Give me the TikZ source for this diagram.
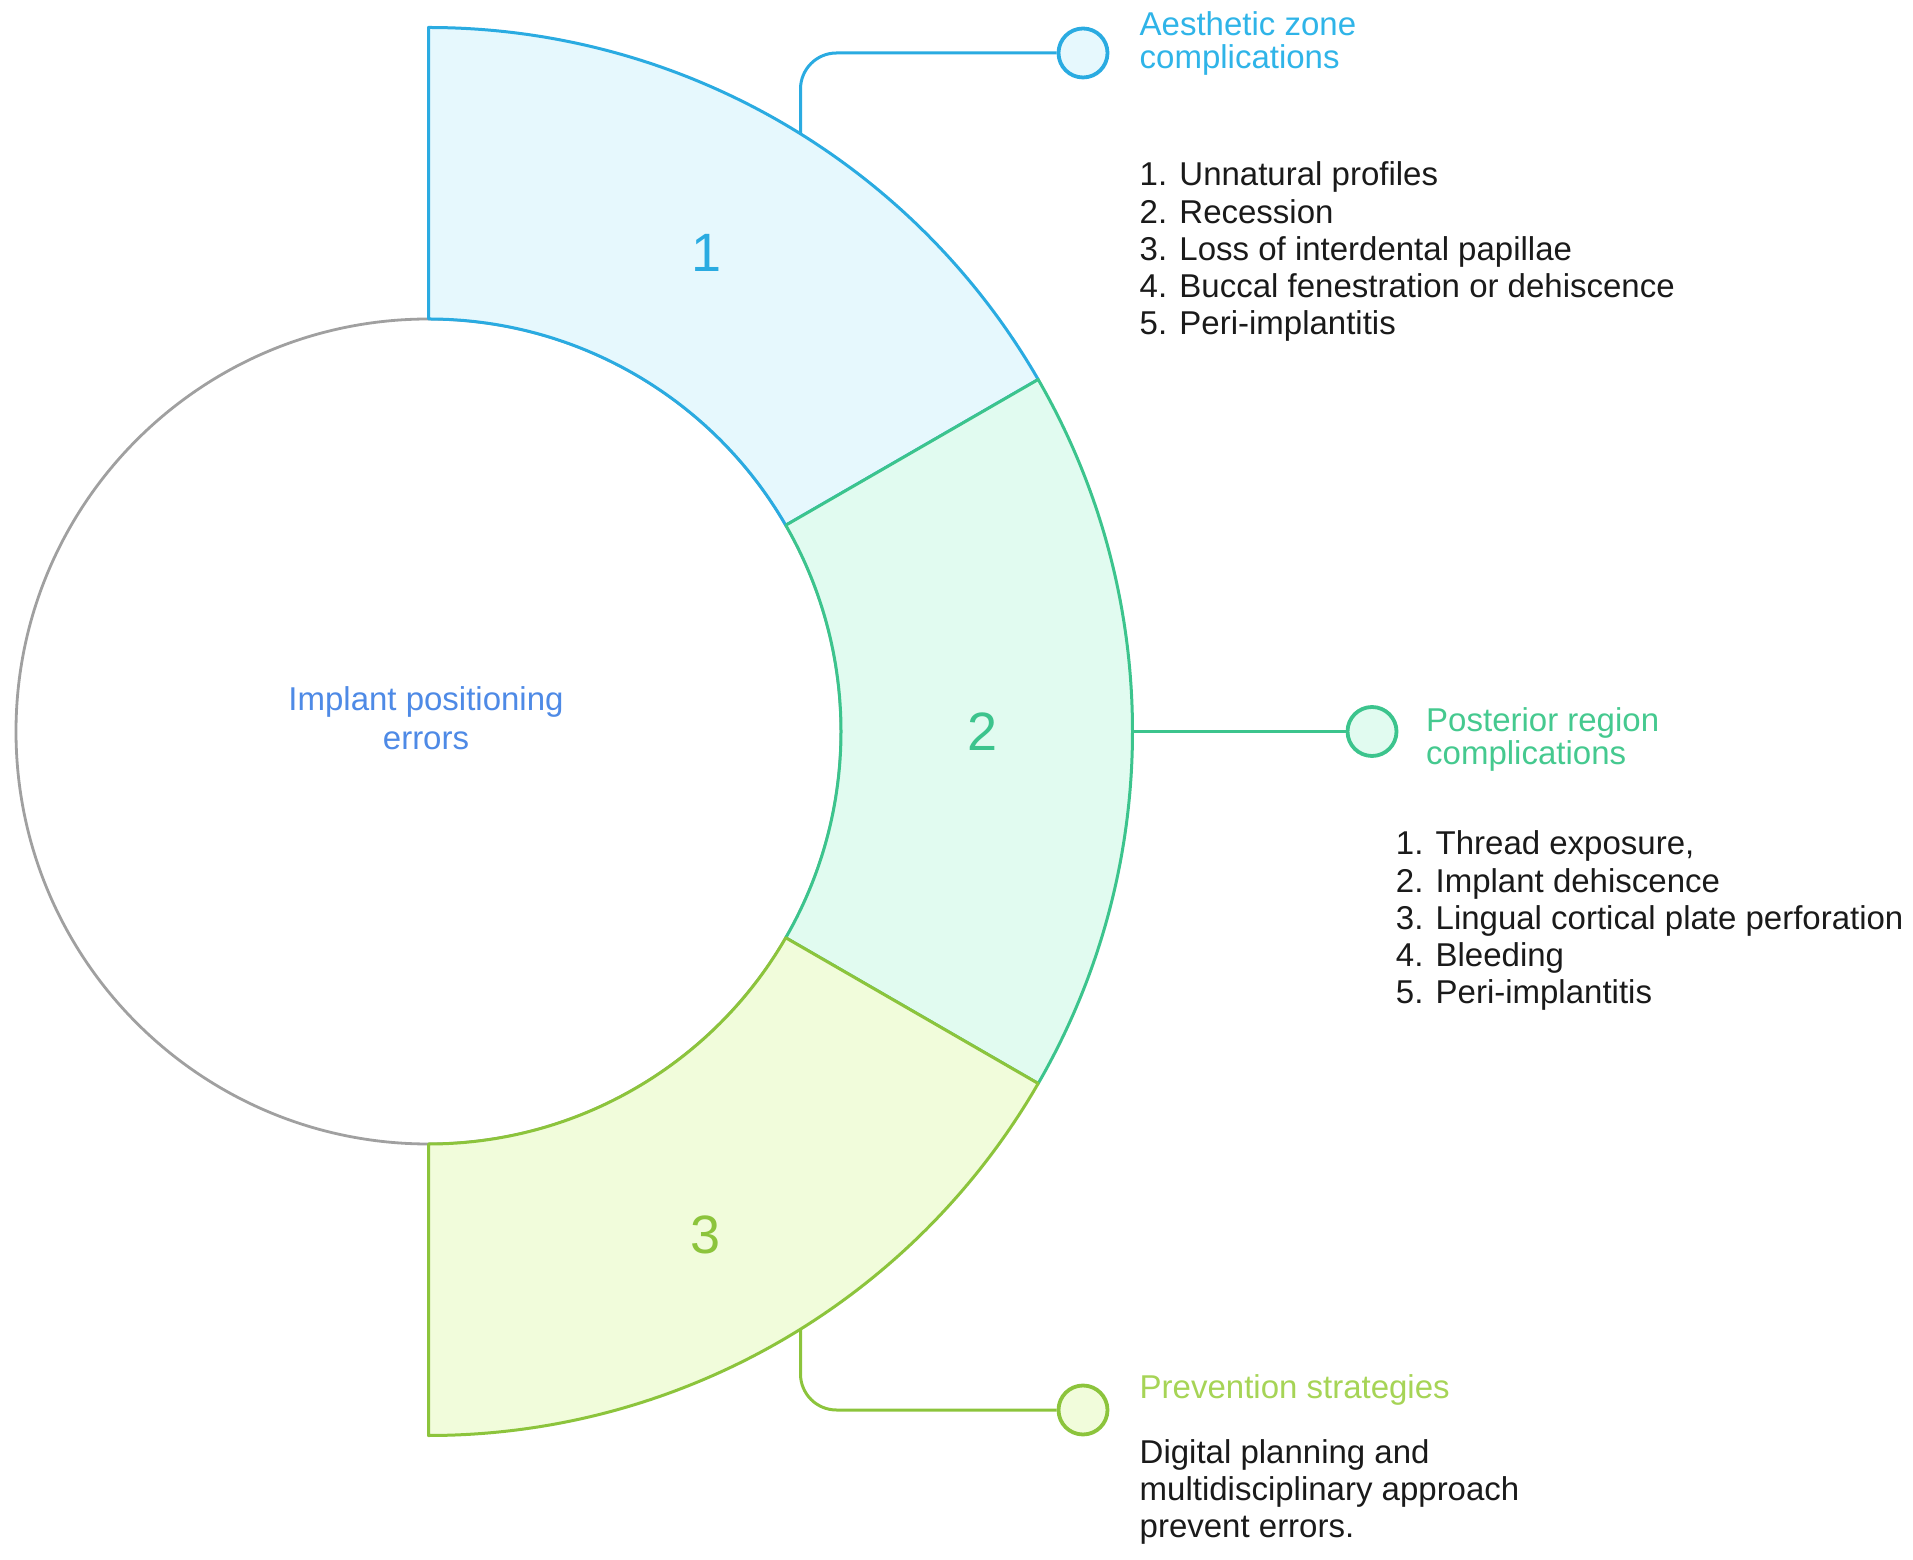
\documentclass[tikz,border=0pt]{standalone}
\usepackage{fontspec}
\setmainfont{Liberation Sans}
\usetikzlibrary{calc}
\definecolor{bluestroke}{HTML}{2AABE1}
\definecolor{bluetext}{HTML}{2FB4E8}
\definecolor{bluefill}{HTML}{E6F8FD}
\definecolor{greenstroke}{HTML}{3CC48D}
\definecolor{greentext}{HTML}{45C98F}
\definecolor{greenfill}{HTML}{E1FBF0}
\definecolor{limestroke}{HTML}{8CC43C}
\definecolor{limetext}{HTML}{A6D456}
\definecolor{limefill}{HTML}{F1FCDB}
\definecolor{hubtext}{HTML}{4E8AE6}
\definecolor{hubline}{HTML}{A0A0A0}
\definecolor{bodytext}{HTML}{1A1A1A}
\begin{document}
\begin{tikzpicture}[x=1pt,y=1pt,
  seg/.style={line width=3pt, line join=round},
  link/.style={line width=3pt, rounded corners=36pt},
  dot/.style={circle, minimum size=49pt, inner sep=0pt, line width=3.8pt},
  num/.style={font=\fontsize{54}{54}\selectfont, inner sep=0pt},
  txt/.style={anchor=base west, inner sep=0pt, text=bodytext},
  head/.style={anchor=base west, inner sep=0pt, font=\fontsize{33}{30}\selectfont},
  body/.style={txt, font=\fontsize{33}{37.2}\selectfont},
  ]
\useasboundingbox (0,0) rectangle (1913,1559);
\coordinate (C) at (428.5,827.5);
% hub circle
\node[circle, draw=hubline, fill=white, line width=2.8pt, minimum size=825pt, inner sep=0pt] (hub) at (C) {};
\node[anchor=base, inner sep=0pt, text=hubtext, font=\fontsize{33}{39}\selectfont] (hubtext) at (426,848.5)
  {\begin{tabular}[t]{@{}c@{}}Implant positioning\\errors\end{tabular}};
% segments
\filldraw[seg, draw=bluestroke, fill=bluefill]
  ($(C)+(90:704pt)$) arc[start angle=90, end angle=30, radius=704pt]
  -- ($(C)+(30:412.5pt)$) arc[start angle=30, end angle=90, radius=412.5pt] -- cycle;
\filldraw[seg, draw=greenstroke, fill=greenfill]
  ($(C)+(30:704pt)$) arc[start angle=30, end angle=-30, radius=704pt]
  -- ($(C)+(-30:412.5pt)$) arc[start angle=-30, end angle=30, radius=412.5pt] -- cycle;
\filldraw[seg, draw=limestroke, fill=limefill]
  ($(C)+(-30:704pt)$) arc[start angle=-30, end angle=-90, radius=704pt]
  -- ($(C)+(-90:412.5pt)$) arc[start angle=-90, end angle=-30, radius=412.5pt] -- cycle;
% numbers
\node[num, text=bluestroke] (n1) at (707,1306) {1};
\node[num, text=greenstroke] (n2) at (983,827.5) {2};
\node[num, text=limestroke] (n3) at (706,324) {3};
% connectors
\coordinate (p1) at ($(C)+(58.1:704pt)$);
\coordinate (p2) at ($(C)+(0:704pt)$);
\coordinate (p3) at ($(C)+(-58.1:704pt)$);
\node[dot, draw=bluestroke, fill=bluefill] (d1) at (1083,1506) {};
\node[dot, draw=greenstroke, fill=greenfill] (d2) at (1372,827.5) {};
\node[dot, draw=limestroke, fill=limefill] (d3) at (1083,149) {};
\draw[link, bluestroke] (p1) |- (d1.west);
\draw[link, greenstroke] (p2) -- (d2.west);
\draw[link, limestroke] (p3) |- (d3.west);
% texts
\node[head, text=bluetext] (h1) at (1139.5,1523)
  {\begin{tabular}[t]{@{}l@{}}Aesthetic zone\\complications\end{tabular}};
\node[body] (l1) at (1139.5,1373)
  {\begin{tabular}[t]{@{}l@{}}1. Unnatural profiles\\2. Recession\\3. Loss of interdental papillae\\4. Buccal fenestration or dehiscence\\5. Peri-implantitis\end{tabular}};
\node[head, text=greentext] (h2) at (1426,827.3)
  {\begin{tabular}[t]{@{}l@{}}Posterior region\\complications\end{tabular}};
\node[body] (l2) at (1395.7,704)
  {\begin{tabular}[t]{@{}l@{}}1. Thread exposure,\\2. Implant dehiscence\\3. Lingual cortical plate perforation\\4. Bleeding\\5. Peri-implantitis\end{tabular}};
\node[head, text=limetext] (h3) at (1139.5,161)
  {\begin{tabular}[t]{@{}l@{}}Prevention strategies\end{tabular}};
\node[body] (l3) at (1139.5,96)
  {\begin{tabular}[t]{@{}l@{}}Digital planning and\\multidisciplinary approach\\prevent errors.\end{tabular}};
\end{tikzpicture}
\end{document}
